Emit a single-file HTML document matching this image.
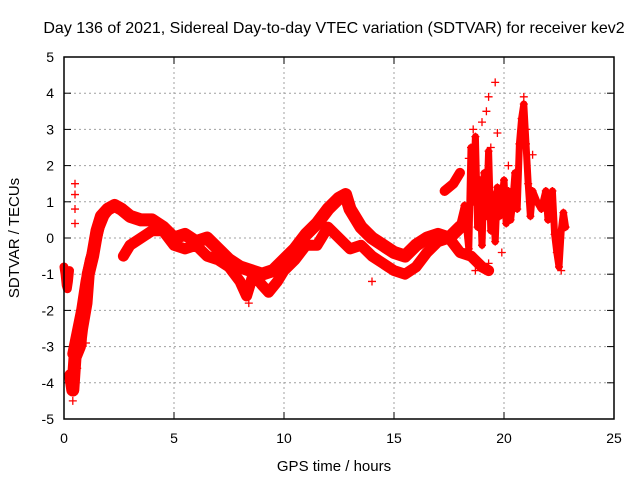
<!DOCTYPE html>
<html><head><meta charset="utf-8"><style>
body{margin:0;background:#fff}
svg{display:block;font-family:"Liberation Sans",sans-serif}
</style></head><body>
<svg id="chart" width="640" height="480">
<text x="334" y="33" font-size="16" text-anchor="middle">Day 136 of 2021, Sidereal Day-to-day VTEC variation (SDTVAR) for receiver kev2</text>
<text x="334" y="471" font-size="15" text-anchor="middle">GPS time / hours</text>
<text transform="translate(19,238) rotate(-90)" font-size="15" text-anchor="middle">SDTVAR / TECUs</text>
<g id="grid"></g><g id="ticks"></g><g id="marks"></g>
<rect x="64" y="57" width="550" height="362" fill="none" stroke="#000" stroke-width="1.5"/>
</svg>
<script>
const xTicks=[0,5,10,15,20,25];
const yTicks=[-5,-4,-3,-2,-1,0,1,2,3,4,5];
const bandAHours=[0.3,0.4,0.5,0.7,0.8,1.0,1.1,1.3,1.5,1.7,2.0,2.3,2.6,3.0,3.5,4.0,4.5,5.0,5.5,6.0,6.5,7.0,7.5,8.0,8.5,9.0,9.5,10.0,10.5,11.0,11.5,12.0,12.5,12.8,13.0,13.5,14.0,14.5,15.0,15.5,16.0,16.5,17.0,17.5,18.0];
const bandAValues=[-3.8,-4.2,-3.3,-3.0,-2.5,-1.8,-1.0,-0.5,0.2,0.6,0.8,0.9,0.8,0.6,0.5,0.5,0.3,0.0,0.1,-0.1,0.0,-0.3,-0.6,-0.8,-0.9,-1.0,-0.9,-0.6,-0.3,0.1,0.4,0.8,1.1,1.2,0.8,0.3,0.0,-0.2,-0.4,-0.5,-0.2,0.0,0.1,0.0,0.3];
const riseHours=[0.4,0.6,0.8,1.0,1.2,1.4,1.6,1.8,2.0];
const riseValues=[-3.2,-2.6,-2.0,-1.2,-0.6,-0.2,0.3,0.6,0.8];
const bandBHours=[2.7,3.0,3.5,4.0,4.5,5.0,5.5,6.0,6.5,7.0,7.5,8.0,8.3,8.6,9.0,9.3,9.7,10.0,10.5,11.0,11.5,12.0,12.5,13.0,13.5,14.0,14.5,15.0,15.5,16.0,16.5,17.0,17.5,18.0,18.5,19.0,19.3];
const bandBValues=[-0.5,-0.2,0.0,0.2,0.2,-0.2,-0.3,-0.2,-0.5,-0.6,-0.8,-1.2,-1.6,-1.0,-1.3,-1.5,-1.2,-0.9,-0.6,-0.2,-0.2,0.3,0.0,-0.3,-0.2,-0.5,-0.7,-0.9,-1.0,-0.8,-0.4,-0.1,0.0,-0.4,-0.5,-0.8,-0.9];
const noisyHours=[18.0,18.2,18.4,18.5,18.6,18.7,18.8,18.9,19.0,19.1,19.2,19.3,19.4,19.5,19.6,19.7,19.8,19.9,20.0,20.1,20.2,20.3,20.4,20.5,20.6,20.7,20.8,20.9,21.0,21.1,21.2,21.3,21.5,21.7,21.9,22.0,22.1,22.2,22.3,22.4,22.5,22.6,22.7,22.8];
const noisyValues=[0.4,0.9,-0.3,2.5,1.0,2.8,0.3,1.6,-0.2,1.8,0.6,2.4,0.2,1.2,-0.1,1.4,0.6,1.0,1.6,0.4,1.3,0.5,1.0,1.8,0.8,2.6,3.3,3.7,2.6,1.5,0.6,1.3,1.0,0.8,1.3,0.5,1.1,1.3,0.1,-0.4,-0.8,0.2,0.7,0.3];
const startHours=[0.0,0.05,0.1,0.15,0.2,0.25];
const startValues=[-0.8,-1.0,-1.3,-1.4,-1.2,-0.9];
const lateHours=[17.3,17.5,17.7,17.9,18.0];
const lateValues=[1.3,1.4,1.5,1.7,1.8];
const scatterHours=[0.5,0.5,0.5,0.5,18.6,19.0,19.2,19.3,19.6,19.4,20.9,21.0,18.4,19.7,0.4,0.6,0.3,0.7,1.0,14.0,8.4,19.3,20.2,21.3,22.6,18.7,19.9];
const scatterValues=[1.5,1.2,0.8,0.4,3.0,3.2,3.5,3.9,4.3,2.5,3.9,3.0,2.2,2.9,-4.5,-3.6,-3.9,-2.6,-2.9,-1.2,-1.8,-0.7,2.0,2.3,-0.9,-0.9,-0.4];
const X=h=>64+h*22, Y=v=>238-v*36.2;
const NS="http://www.w3.org/2000/svg";
const grid=document.getElementById('grid'),ticks=document.getElementById('ticks'),marks=document.getElementById('marks');
function mk(tag,attrs,parent){const e=document.createElementNS(NS,tag);for(const k in attrs)e.setAttribute(k,attrs[k]);parent.appendChild(e);return e;}
xTicks.forEach(t=>{
 if(t>0&&t<25){const g=mk('line',{x1:X(t),x2:X(t),y1:57,y2:419,stroke:'#a0a0a0','stroke-dasharray':'2,3'},grid);
 
 }
 mk('line',{x1:X(t),x2:X(t),y1:419,y2:412,stroke:'#000'},ticks);mk('line',{x1:X(t),x2:X(t),y1:57,y2:64,stroke:'#000'},ticks);
 const l=mk('text',{x:X(t),y:443,'font-size':14,'text-anchor':'middle'},ticks);l.textContent=t;
 
 
});
yTicks.forEach(t=>{
 if(t>-5&&t<5){const g=mk('line',{x1:64,x2:614,y1:Y(t),y2:Y(t),stroke:'#a0a0a0','stroke-dasharray':'2,3'},grid);
 
 }
 mk('line',{x1:64,x2:71,y1:Y(t),y2:Y(t),stroke:'#000'},ticks);mk('line',{x1:614,x2:607,y1:Y(t),y2:Y(t),stroke:'#000'},ticks);
 const l=mk('text',{x:54,y:Y(t)+5,'font-size':14,'text-anchor':'end'},ticks);l.textContent=t;
 
 
});
function band(hs,vs,name,w){
 const p=mk('polyline',{points:hs.map((h,i)=>X(h)+','+Y(vs[i])).join(' '),fill:'none',stroke:'#ff0000','stroke-width':w,'stroke-linejoin':'round','stroke-linecap':'round'},marks);
 
 
 pluses(hs,vs,name+'-point');
}
function pluses(hs,vs,name){
 hs.forEach((h,i)=>{const x=X(h),y=Y(vs[i]);
  const p=mk('path',{d:`M${x-4},${y}h8M${x},${y-4}v8`,stroke:'#ff0000','stroke-width':1.3},marks);
  
  });
}
band(bandAHours,bandAValues,'series-band-upper',13);
band(riseHours,riseValues,'series-rise',11);
band(bandBHours,bandBValues,'series-band-lower',11);
band(noisyHours,noisyValues,'series-noisy-cluster',7);
band(startHours,startValues,'series-start-cluster',9);
band(lateHours,lateValues,'series-late-cluster',10);
pluses(scatterHours,scatterValues,'scatter-point');
</script>
</body></html>
